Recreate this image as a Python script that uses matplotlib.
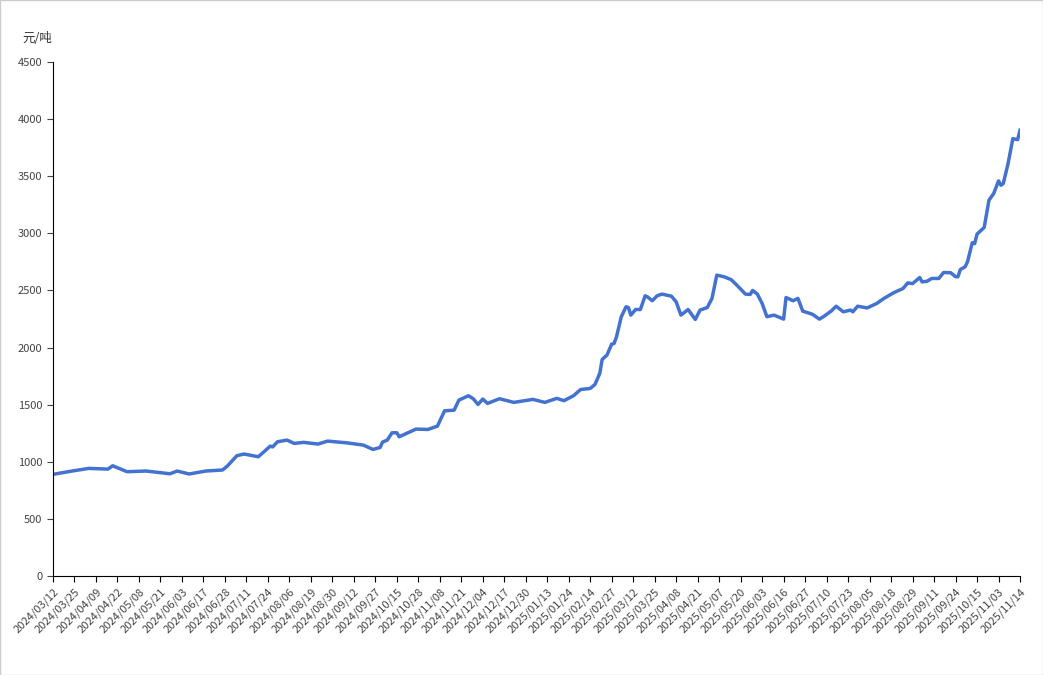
import matplotlib
matplotlib.use("Agg")
import matplotlib.pyplot as plt

plt.rcParams['font.family'] = ['Noto Sans CJK SC', 'DejaVu Sans']

# tick labels, one every 9 trading days
tick_labels = [
    "2024/03/12", "2024/03/25", "2024/04/09", "2024/04/22", "2024/05/08", "2024/05/21",
    "2024/06/03", "2024/06/17", "2024/06/28", "2024/07/11", "2024/07/24", "2024/08/06",
    "2024/08/19", "2024/08/30", "2024/09/12", "2024/09/27", "2024/10/15", "2024/10/28",
    "2024/11/08", "2024/11/21", "2024/12/04", "2024/12/17", "2024/12/30", "2025/01/13",
    "2025/01/24", "2025/02/14", "2025/02/27", "2025/03/12", "2025/03/25", "2025/04/08",
    "2025/04/21", "2025/05/07", "2025/05/20", "2025/06/03", "2025/06/16", "2025/06/27",
    "2025/07/10", "2025/07/23", "2025/08/05", "2025/08/18", "2025/08/29", "2025/09/11",
    "2025/09/24", "2025/10/15", "2025/11/03", "2025/11/14",
]

# trading-day index and price (元/吨)
day = [0, 8, 15, 23, 25, 31, 39, 49, 52, 57, 64, 71, 73, 77, 80, 86, 91, 92, 94, 98,
       101, 105, 111, 115, 123, 130, 134, 137, 138, 140, 142, 144, 145, 152, 157, 161,
       164, 168, 170, 174, 176, 178, 180, 182, 187, 193, 201, 206, 211, 214, 218, 221,
       225, 227, 229, 230, 232, 234, 235, 236, 238, 240, 241, 242, 244, 246, 248, 249,
       251, 253, 255, 259, 261, 263, 266, 269, 271, 274, 276, 278, 281, 284, 286, 290,
       292, 293, 295, 297, 299, 302, 306, 307, 310, 312, 314, 318, 321, 323, 326, 328,
       331, 334, 335, 337, 341, 345, 348, 352, 356, 358, 360, 363, 364, 366, 368, 371,
       373, 376, 378, 379, 380, 382, 383, 385, 386, 387, 390, 392, 394, 396, 397, 398,
       400, 402, 404, 405]
price = [890, 919, 942, 936, 965, 913, 919, 895, 919, 893, 919, 928, 962, 1053, 1068,
         1044, 1137, 1130, 1175, 1190, 1161, 1170, 1155, 1181, 1166, 1146, 1108, 1125,
         1172, 1190, 1254, 1254, 1219, 1286, 1283, 1312, 1446, 1452, 1540, 1578, 1552,
         1502, 1549, 1511, 1552, 1520, 1546, 1520, 1555, 1535, 1578, 1633, 1642, 1677,
         1774, 1896, 1934, 2030, 2036, 2094, 2269, 2357, 2350, 2284, 2333, 2333, 2453,
         2443, 2410, 2453, 2468, 2450, 2400, 2284, 2333, 2246, 2328, 2350, 2430, 2634,
         2620, 2595, 2555, 2468, 2465, 2500, 2468, 2386, 2270, 2284, 2249, 2438, 2410,
         2430, 2319, 2292, 2249, 2275, 2321, 2362, 2313, 2328, 2313, 2362, 2347, 2386,
         2430, 2479, 2517, 2566, 2560, 2613, 2575, 2580, 2605, 2605, 2657, 2655, 2620,
         2620, 2683, 2707, 2750, 2917, 2910, 2993, 3051, 3290, 3349, 3459, 3421, 3436,
         3611, 3829, 3820, 3902]

fig = plt.figure(figsize=(10.43, 6.75), dpi=100)
ax = fig.add_axes([53 / 1043, 1 - 576 / 675, 967 / 1043, 514 / 675])
ax.plot(day, price, color='#4472d0', linewidth=2.5, solid_joinstyle='round')

ax.set_xlim(0, 405)
ax.set_ylim(0, 4500)
ax.set_yticks(range(0, 4501, 500))
ax.set_xticks([i * 9 for i in range(len(tick_labels))])
ax.set_xticklabels(tick_labels, rotation=45, ha='right', rotation_mode='anchor',
                   fontsize=8, color='#444444')
ax.tick_params(axis='y', labelsize=8, colors='#444444', length=4)
ax.tick_params(axis='x', length=4)
for s in ['top', 'right']:
    ax.spines[s].set_visible(False)
for s in ['left', 'bottom']:
    ax.spines[s].set_color('black')
fig.text(22 / 1043, 1 - 42 / 675, '元/吨', fontsize=9, color='#333333')

fig.patches.append(plt.Rectangle((0, 0), 1, 1, transform=fig.transFigure,
                                 fill=False, edgecolor='#cccccc', linewidth=1))
fig.savefig('out.png')
